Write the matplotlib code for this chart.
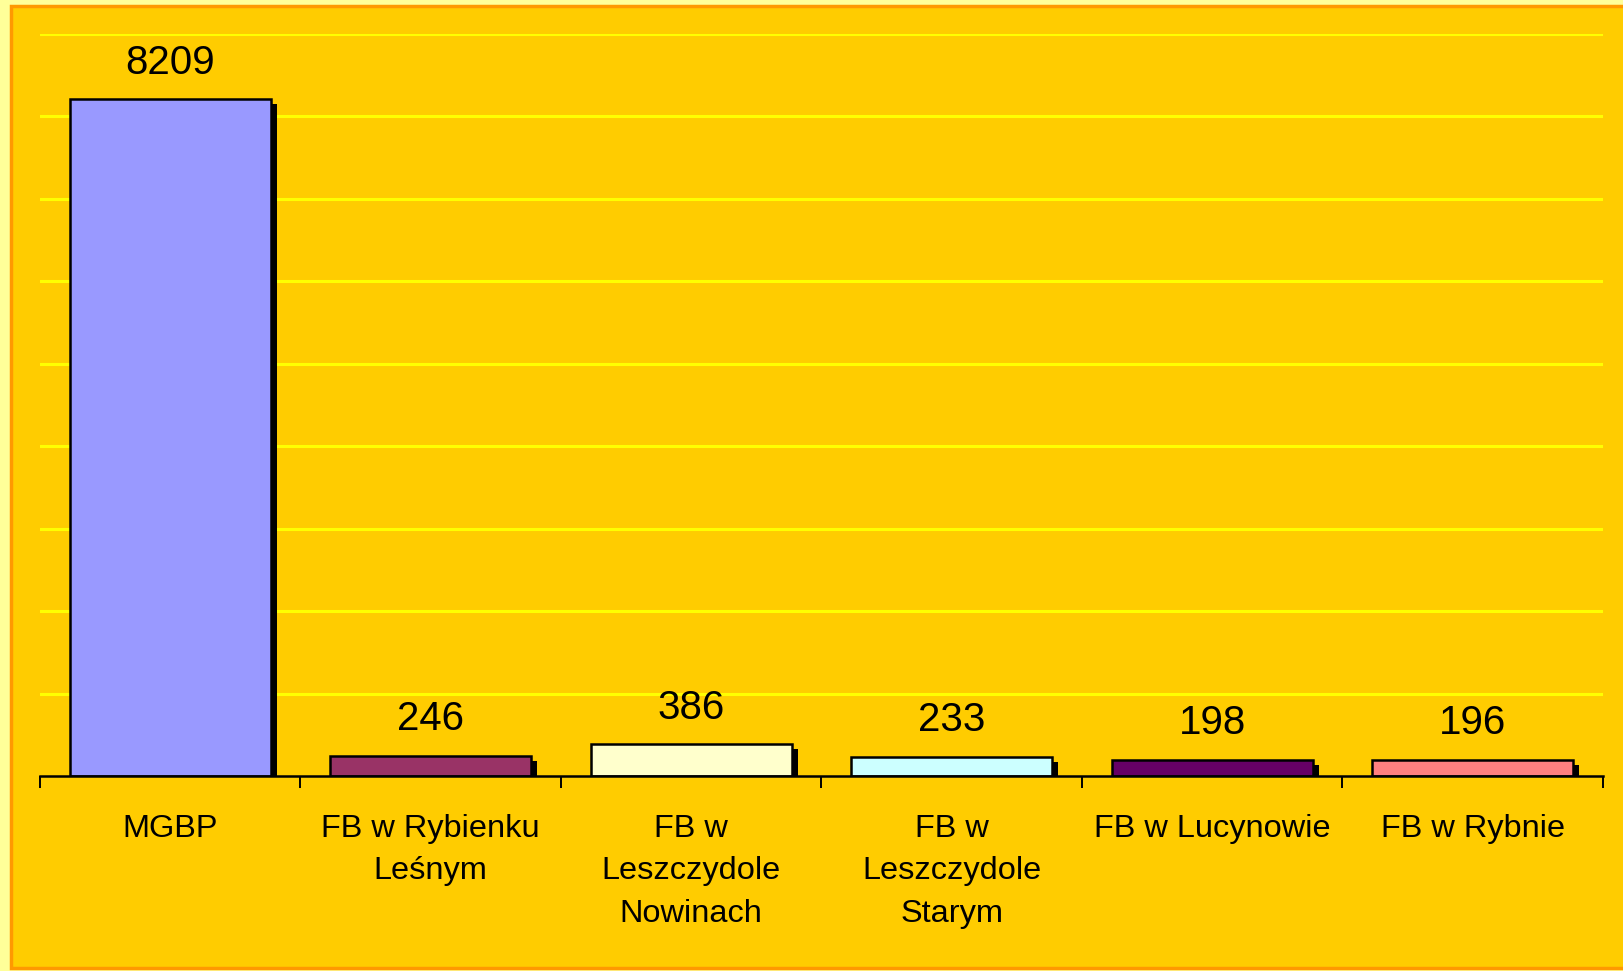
import numpy as np
import matplotlib.pyplot as plt
from matplotlib.patches import Rectangle
import matplotlib.patheffects as pe

categories = ["MGBP", "FB w Rybienku\nLeśnym", "FB w\nLeszczydole\nNowinach",
              "FB w\nLeszczydole\nStarym", "FB w Lucynowie", "FB w Rybnie"]
values = [8209, 246, 386, 233, 198, 196]
colors = ["#9999FF", "#993366", "#FFFFCC", "#CCFFFF", "#660066", "#FF8080"]

plt.rcParams['font.family'] = ['Liberation Sans', 'DejaVu Sans']

fig = plt.figure(figsize=(16.24, 9.71), dpi=100)
fig.patch.set_facecolor("#FFFF99")
fig.patches.append(Rectangle((11 / 1624, 3 / 971), 1.02, (971 - 9) / 971,
                             transform=fig.transFigure, facecolor="#FFCC00",
                             edgecolor="#FF9900", linewidth=2.5, zorder=-5))

ax = fig.add_axes([40 / 1624, 195 / 971, 1563 / 1624, 742 / 971])
ax.set_facecolor("none")

x = np.arange(len(values))
bars = ax.bar(x, values, width=0.77, color=colors, edgecolor="black", linewidth=1.8, zorder=3)
for b in bars:
    b.set_path_effects([pe.SimplePatchShadow(offset=(4.5, -3.6), shadow_rgbFace="black", alpha=1.0),
                        pe.Normal()])

for xi, v in zip(x, values):
    ax.annotate(str(v), (xi, v), xytext=(0, 12.5), textcoords="offset points",
                ha="center", va="bottom", fontsize=29)

ax.set_xlim(-0.5, len(values) - 0.5)
ax.set_ylim(0, 9000)
ax.set_yticks(np.arange(1000, 9001, 1000))
ax.yaxis.grid(True, color="#FFFF00", linewidth=2.2, zorder=0)
ax.set_axisbelow(True)
ax.tick_params(axis="y", left=False, labelleft=False)

ax.set_xticks(np.arange(len(values) + 1) - 0.5)
ax.set_xticklabels([])
ax.set_xticks(x, minor=True)
ax.set_xticklabels(categories, minor=True, fontsize=23.4, linespacing=1.55, va="top")
ax.tick_params(axis="x", which="major", direction="out", length=8.5, width=1.4, color="black")
ax.tick_params(axis="x", which="minor", length=0, pad=27)

for s in ["top", "right", "left"]:
    ax.spines[s].set_visible(False)
ax.spines["bottom"].set_linewidth(1.8)
ax.spines["bottom"].set_zorder(4)

fig.savefig("out.png", dpi=100, facecolor=fig.get_facecolor())
